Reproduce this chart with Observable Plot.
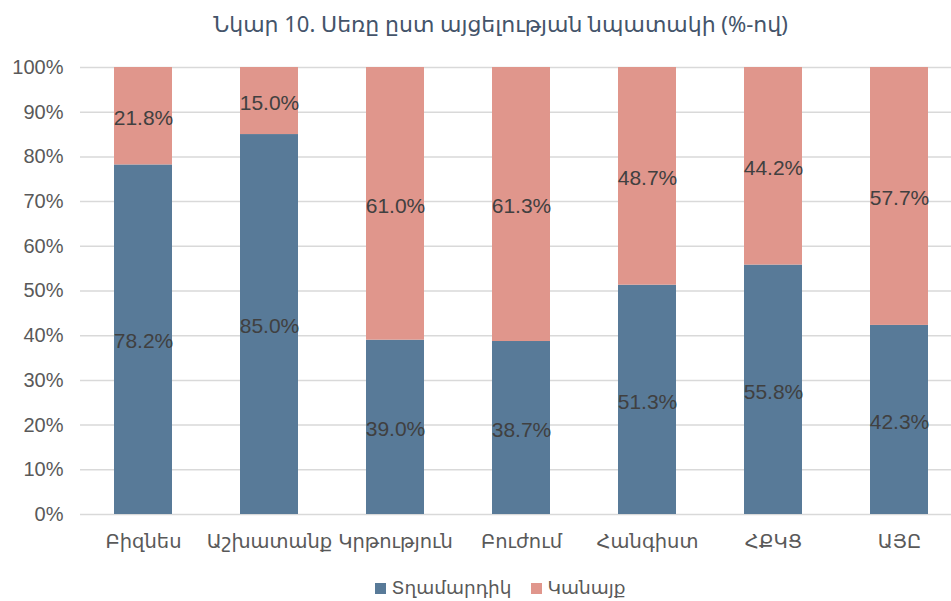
<!DOCTYPE html>
<html>
<head>
<meta charset="utf-8">
<script src="https://cdn.jsdelivr.net/npm/d3@7"></script>
<script src="https://cdn.jsdelivr.net/npm/@observablehq/plot@0.6"></script>
<style>
  body { margin: 0; background: #fff; font-family: "Liberation Sans", "DejaVu Sans", sans-serif; }
  #title { height: 45px; line-height: 46px; text-align: center; padding-left: 50px; font-family: "Noto Sans", "DejaVu Sans", sans-serif; font-size: 22px; color: #44546a; }
  #legend { display: flex; justify-content: center; padding-left: 50px; gap: 20px; font-size: 18.5px; color: #595959; margin-top: 12px; }
  #legend span.sw { display: inline-block; width: 11px; height: 11px; margin-right: 5px; }
  #legend div { display: flex; align-items: center; }
</style>
</head>
<body>
<div id="title">Նկար 10. Սեռը ըստ այցելության նպատակի (%-ով)</div>
<div id="chart"></div>
<div id="legend"></div>
<script>
const categories = ["Բիզնես", "Աշխատանք", "Կրթություն", "Բուժում", "Հանգիստ", "ՀՔԿՑ", "ԱՅԸ"];
const seriesNames = ["Տղամարդիկ", "Կանայք"];
const male = [78.2, 85.0, 39.0, 38.7, 51.3, 55.8, 42.3];
const female = [21.8, 15.0, 61.0, 61.3, 48.7, 44.2, 57.7];
const yTicks = [0, 10, 20, 30, 40, 50, 60, 70, 80, 90, 100];
const colors = ["#587a98", "#e0968c"];

const data = [];
categories.forEach((c, i) => {
  data.push({cat: c, series: seriesNames[0], value: male[i]});
  data.push({cat: c, series: seriesNames[1], value: female[i]});
});

const chart = Plot.plot({
  width: 951,
  height: 520,
  marginTop: 22,
  marginBottom: 51,
  marginLeft: 80,
  marginRight: 0,
  style: {fontFamily: "'Liberation Sans', 'DejaVu Sans', sans-serif", fontSize: "18px", color: "#595959", background: "#fff"},
  x: {domain: categories, range: [80, 962], paddingInner: 0.54, paddingOuter: 0.27, label: null},
  y: {domain: [0, 100], label: null},
  color: {domain: seriesNames, range: colors},
  marks: [
    Plot.ruleY(yTicks, {stroke: "#d9d9d9", strokeWidth: 1.5}),
    Plot.barY(data, Plot.stackY({x: "cat", y: "value", z: "series", fill: "series"})),
    Plot.text(data, Plot.stackY({x: "cat", y: "value", z: "series", text: d => d.value.toFixed(1) + "%", fill: "#404040", fontSize: 21, dy: 2})),
    Plot.axisX({tickSize: 0, tickPadding: 20, fontSize: 19.5, fill: "#595959", label: null}),
    Plot.axisY({ticks: yTicks, tickSize: 0, tickPadding: 17, tickFormat: d => d + "%", fontSize: 20, fill: "#595959", label: null})
  ]
});
document.getElementById("chart").appendChild(chart);

const legend = document.getElementById("legend");
seriesNames.forEach((s, i) => {
  const d = document.createElement("div");
  d.innerHTML = `<span class="sw" style="background:${colors[i]}"></span>${s}`;
  legend.appendChild(d);
});
</script>
</body>
</html>
